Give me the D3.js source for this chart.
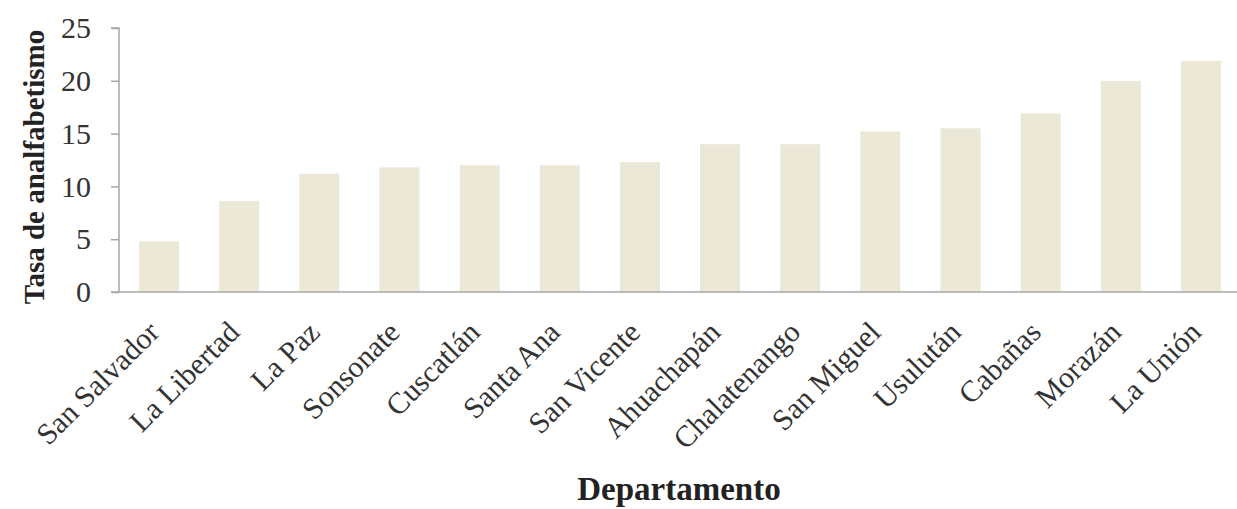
<!DOCTYPE html>
<html><head><meta charset="utf-8">
<script src="https://cdn.jsdelivr.net/npm/d3@7"></script>
<style>body{margin:0;background:#fff}svg{display:block}</style>
</head><body>
<svg id="c" width="1237" height="509"></svg>
<script>
const departamentos = ["San Salvador","La Libertad","La Paz","Sonsonate","Cuscatlán","Santa Ana","San Vicente","Ahuachapán","Chalatenango","San Miguel","Usulután","Cabañas","Morazán","La Unión"];
const tasa = [4.8, 8.6, 11.2, 11.8, 12.0, 12.0, 12.3, 14.0, 14.0, 15.2, 15.5, 16.9, 20.0, 21.9];
const yTicks = [0, 5, 10, 15, 20, 25];
const yTitle = "Tasa de analfabetismo";
const xTitle = "Departamento";

const svg = d3.select("#c");
const font = "'Liberation Serif', serif";
const x0 = 119, x1 = 1241, yBase = 292, yTop = 28;

const x = d3.scaleBand().domain(departamentos).range([x0, x1]).paddingInner(0.5).paddingOuter(0.25);
const y = d3.scaleLinear().domain([0, 25]).range([yBase, yTop]);

svg.append("g").selectAll("rect").data(departamentos).join("rect")
  .attr("x", d => x(d)).attr("width", x.bandwidth())
  .attr("y", (d,i) => y(tasa[i])).attr("height", (d,i) => yBase - y(tasa[i]))
  .attr("fill", "#ece8d7");

const ya = svg.append("g").attr("transform", `translate(${x0},0)`)
  .call(d3.axisLeft(y).tickValues(yTicks).tickSize(8).tickPadding(20));
ya.select(".domain").attr("stroke", "#a6a6a6").attr("stroke-width", 1.5).attr("d", `M-8,${yTop}H0V${yBase}`);
ya.selectAll(".tick line").attr("stroke", "#a6a6a6").attr("stroke-width", 1.5);
ya.selectAll(".tick text").attr("font-family", font).attr("font-size", 30).attr("fill", "#333");

const xa = svg.append("g").attr("transform", `translate(0,${yBase})`)
  .call(d3.axisBottom(x).tickSize(0).tickPadding(0));
xa.select(".domain").attr("stroke", "#a6a6a6").attr("stroke-width", 1.5).attr("d", `M${x0-8},0H${x1}`);
xa.selectAll(".tick text")
  .attr("font-family", font).attr("font-size", 30).attr("fill", "#333")
  .attr("text-anchor", "end")
  .attr("transform", "translate(2,42) rotate(-45)")
  .attr("dy", 0).attr("y", 0);

svg.append("text").attr("x", 679).attr("y", 500).attr("text-anchor", "middle")
  .attr("font-family", font).attr("font-weight", "bold").attr("font-size", 33).attr("fill", "#222")
  .text(xTitle);
svg.append("text").attr("transform", "translate(44,167) rotate(-90)").attr("text-anchor", "middle")
  .attr("font-family", font).attr("font-weight", "bold").attr("font-size", 29).attr("fill", "#222")
  .text(yTitle);
</script>
</body></html>
